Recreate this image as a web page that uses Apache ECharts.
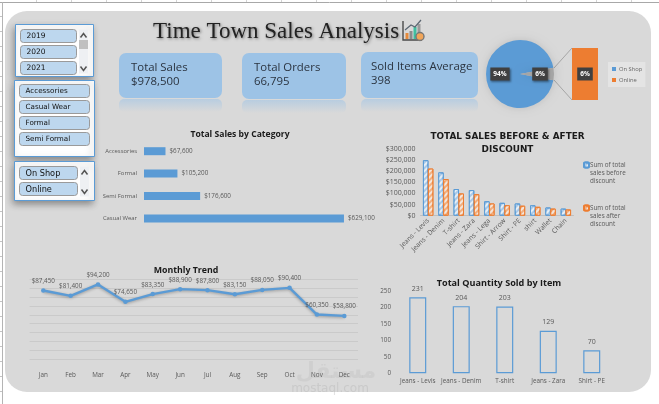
<!DOCTYPE html>
<html>
<head>
<meta charset="utf-8">
<title>Time Town Sales Analysis</title>
<script src="https://cdn.jsdelivr.net/npm/echarts@6/dist/echarts.min.js"></script>
<style>
html,body{margin:0;padding:0;background:#fff}
#chart{width:659px;height:404px}
</style>
</head>
<body>
<div id="chart"></div>
<script>
// Sales figures
const channelShare = [94, 6];
const channelNames = ['On Shop', 'Online'];

const categoryNames = ['Accessories', 'Formal', 'Semi Formal', 'Casual Wear'];
const categorySales = [67600, 105200, 176600, 629100];

const itemNames = ['Jeans - Levis', 'Jeans - Denim', 'T-shirt', 'Jeans - Zara', 'Jeans - Lega', 'Shirt - Arrow', 'Shirt - PE', 'shirt', 'Wallet', 'Chain'];
const salesBefore = [250000, 195000, 120000, 115000, 65000, 58000, 55000, 47000, 37000, 32000];
const salesAfter = [212000, 165000, 100000, 97000, 55000, 47000, 45000, 40000, 32000, 28000];
const seriesBeforeName = 'Sum of total\nsales before\ndiscount';
const seriesAfterName = 'Sum of total\nsales after\ndiscount';

const months = ['Jan', 'Feb', 'Mar', 'Apr', 'May', 'Jun', 'Jul', 'Aug', 'Sep', 'Oct', 'Nov', 'Dec'];
const monthlySales = [87450, 81400, 94200, 74650, 83350, 88900, 87800, 83150, 88050, 90400, 60350, 58800];

const topItems = ['Jeans - Levis', 'Jeans - Denim', 'T-shirt', 'Jeans - Zara', 'Shirt - PE'];
const topQuantities = [231, 204, 203, 129, 70];

const yearOptions = ['2019', '2020', '2021'];
const categoryOptions = ['Accessories', 'Casual Wear', 'Formal', 'Semi Formal'];
const channelOptions = ['On Shop', 'Online'];

const kpiCards = [
  { title: 'Total Sales', value: '$978,500' },
  { title: 'Total Orders', value: '66,795' },
  { title: 'Sold Items Average', value: '398' }
];

const BLUE = '#5B9BD5', ORANGE = '#ED7D31', GRAY_TEXT = '#595959';
const LABEL_FONT = '"Open Sans", sans-serif';
const usd = v => '$' + v.toLocaleString('en-US');

// Dashboard furniture: sheet lines, panel, slicers, KPI cards, icon
const furniture = [];
const rect = (x, y, width, height, r, style) => furniture.push({
  type: 'rect', silent: true, shape: { x, y, width, height, r }, style
});
const line = (x1, y1, x2, y2, stroke, lineWidth) => furniture.push({
  type: 'line', silent: true, shape: { x1, y1, x2, y2 }, style: { stroke, lineWidth: lineWidth || 1 }
});
const text = (x, y, t, font, fill, extra) => furniture.push({
  type: 'text', silent: true, x, y,
  style: Object.assign({ text: t, font, fill, textVerticalAlign: 'middle' }, extra || {})
});

// Worksheet cell lines behind the panel
for (let x = 36.5; x < 659; x += 35) line(x, 0, x, 2, '#d4d4d4');
for (let y = 16.5; y < 404; y += 15) line(0, y, 2, y, '#c4c4c4');
line(0, 2.5, 659, 2.5, '#a8a8a8');
line(2.5, 2, 2.5, 404, '#b4b4b4');

// Main rounded panel
rect(5, 11, 646, 381, 22, { fill: '#D9D9D9' });

// Slicer frames with their buttons
function slicer(frame, buttonX, buttonW, firstY, options, fontSize, scrollX, scrollH) {
  rect(frame[0], frame[1], frame[2], frame[3], 0, {
    fill: '#fff', stroke: BLUE, lineWidth: 1,
    shadowBlur: 7, shadowOffsetX: -2, shadowOffsetY: 3, shadowColor: 'rgba(0,0,0,0.38)'
  });
  options.forEach((label, i) => {
    const y = firstY + i * 16;
    const h = Math.min(13, frame[1] + frame[3] - y - 1);
    rect(buttonX, y, buttonW, h, 3, { fill: '#BDD7EE', stroke: '#9a9a9a', lineWidth: 1 });
    text(buttonX + 6, y + 7, label, fontSize + 'px "DejaVu Sans", sans-serif', '#111');
  });
  if (scrollX) {
    rect(scrollX, firstY, 9, scrollH, 0, { fill: '#EEF0F3' });
    const chevron = (cy, dir) => furniture.push({
      type: 'polyline', silent: true,
      shape: { points: [[scrollX + 1.5, cy + 2 * dir], [scrollX + 4.5, cy - 2 * dir], [scrollX + 7.5, cy + 2 * dir]] },
      style: { stroke: '#555', lineWidth: 1.5, fill: null }
    });
    chevron(firstY + 6, 1);
    chevron(firstY + scrollH - 5, -1);
  }
}
slicer([15.5, 24.5, 78, 52], 20.5, 56, 29.5, yearOptions, 7.5, 79, 44);
rect(79, 40, 9, 9, 0, { fill: '#c0c0c0' });
slicer([14.5, 80.5, 80, 76], 19.5, 70, 84.5, categoryOptions, 7.2);
slicer([14.5, 161.5, 80, 39], 19.5, 58, 166.5, channelOptions, 8.2, 80, 30);

// KPI cards with a faded reflection underneath
const cardBoxes = [[119, 53, 103, 45], [242, 53, 104, 46], [361, 52, 117, 46]];
const cardInset = [12, 12, 10];
kpiCards.forEach((card, i) => {
  const [x, y, w, h] = cardBoxes[i];
  rect(x, y + h + 1, w, 13, 5, {
    fill: { type: 'linear', x: 0, y: 0, x2: 0, y2: 1, colorStops: [
      { offset: 0, color: 'rgba(157,195,230,0.55)' }, { offset: 1, color: 'rgba(157,195,230,0)' }
    ] }
  });
  rect(x, y, w, h, 7, { fill: '#9DC3E6' });
  text(x + cardInset[i], y + 15, card.title, '11.4px "Open Sans", sans-serif', '#2b3440');
  text(x + cardInset[i], y + 29, card.value, '11.4px "Open Sans", sans-serif', '#2b3440');
});

// Chart icon beside the heading
furniture.push({
  type: 'polyline', silent: true,
  shape: { points: [[403, 21], [403, 40], [422, 40]] },
  style: { stroke: '#4a4a4a', lineWidth: 1.4, fill: null }
});
rect(405.5, 33, 3, 6, 0, { fill: '#E58A3C' });
rect(409.5, 31, 3, 8, 0, { fill: '#8c8c8c' });
rect(413.5, 27, 3, 12, 0, { fill: '#3FBFA0' });
rect(417.5, 24, 3, 12, 0, { fill: '#9a9a9a' });
furniture.push({
  type: 'polyline', silent: true,
  shape: { points: [[405, 30], [411, 25], [415, 27], [421, 20]] },
  style: { stroke: '#5a6570', lineWidth: 1.2, fill: null }
});
furniture.push({
  type: 'circle', silent: true, shape: { cx: 420, cy: 36.5, r: 4 },
  style: { fill: '#F2A65A', stroke: '#777', lineWidth: 1.4 }
});

// Connector lines from the pie slice to the breakdown column
line(554, 68, 572, 48, '#a6a6a6');
line(554, 80, 572, 100, '#a6a6a6');

// Site mark in the lower corner
text(336, 372, 'مستقل', 'bold 22px "DejaVu Sans", sans-serif', 'rgba(190,190,190,0.35)', { textAlign: 'center' });
text(330, 389, 'mostaql.com', '12px "DejaVu Sans", sans-serif', 'rgba(175,175,175,0.35)', { textAlign: 'center' });

const chartTitle = (t, centerX, top, size, font) => ({
  text: t, left: centerX, top, textAlign: 'center', padding: 0,
  textStyle: { fontFamily: font || LABEL_FONT, fontWeight: 'bold', fontSize: size, color: '#1a1a1a', lineHeight: 13 }
});

const baseLabel = { fontFamily: LABEL_FONT, fontSize: 6.3, color: GRAY_TEXT };

const option = {
  animation: false,
  backgroundColor: '#fff',
  graphic: { elements: furniture },
  title: [
    {
      text: 'Time Town Sales Analysis', left: 153, top: 20, padding: 0,
      textStyle: {
        fontFamily: '"Liberation Serif", serif', fontWeight: 'normal', fontSize: 23, color: '#222',
        textShadowColor: 'rgba(0,0,0,0.45)', textShadowBlur: 3, textShadowOffsetX: 1, textShadowOffsetY: 1
      }
    },
    chartTitle('Total Sales by Category', 240, 128, 8.6),
    chartTitle('TOTAL SALES BEFORE & AFTER\nDISCOUNT', 507.5, 130, 8.9, '"DejaVu Sans", sans-serif'),
    chartTitle('Monthly Trend', 186, 264, 8.8),
    chartTitle('Total Quantity Sold by Item', 499, 277, 9.1)
  ],
  legend: [
    {
      seriesIndex: 0, data: [
        { name: channelNames[0], itemStyle: { color: BLUE } },
        { name: channelNames[1], itemStyle: { color: ORANGE } }
      ],
      orient: 'vertical', left: 608, top: 62, padding: [4, 3, 4, 4], itemGap: 5,
      itemWidth: 4, itemHeight: 4, icon: 'rect', backgroundColor: '#E4E4E4',
      selectedMode: false,
      textStyle: { fontFamily: LABEL_FONT, fontSize: 5.8, color: '#666', padding: [0, 0, 0, -2] }
    },
    {
      data: [seriesBeforeName, seriesAfterName],
      orient: 'vertical', left: 583, top: 145, padding: 0, itemGap: 3,
      itemWidth: 5, itemHeight: 5, selectedMode: false,
      // two blank lines put each swatch level with the first line of its caption
      formatter: name => '\n\n' + name,
      textStyle: { fontFamily: LABEL_FONT, fontSize: 6.3, color: GRAY_TEXT, lineHeight: 8, padding: [0, 0, 0, -4] }
    }
  ],
  grid: [
    { left: 144, top: 140, width: 222.5, height: 89.6 },
    { left: 420.5, top: 149, width: 153, height: 66.7 },
    { left: 29.6, top: 279.3, width: 328.4, height: 80 },
    { left: 396, top: 291, width: 217.5, height: 82.3 },
    { left: 572, top: 48, width: 26, height: 52 }
  ],
  xAxis: [
    { gridIndex: 0, type: 'value', min: 0, max: 700000, show: false },
    {
      gridIndex: 1, type: 'category', data: itemNames,
      axisTick: { show: false }, axisLine: { lineStyle: { color: '#bfbfbf' } },
      axisLabel: Object.assign({}, baseLabel, { rotate: 45, interval: 0, margin: 4, fontSize: 6.8 })
    },
    {
      gridIndex: 2, type: 'category', data: months,
      axisTick: { show: false }, axisLine: { show: false },
      axisLabel: Object.assign({}, baseLabel, { margin: 13 })
    },
    {
      gridIndex: 3, type: 'category', data: topItems,
      axisTick: { show: false }, axisLine: { show: false },
      axisLabel: Object.assign({}, baseLabel, { interval: 0, margin: 5 })
    },
    { gridIndex: 4, type: 'category', data: [channelNames[1]], show: false }
  ],
  yAxis: [
    {
      gridIndex: 0, type: 'category', data: categoryNames, inverse: true,
      axisTick: { show: false }, axisLine: { show: false },
      axisLabel: Object.assign({}, baseLabel, { margin: 7, fontSize: 5.9 })
    },
    {
      gridIndex: 1, type: 'value', min: 0, max: 300000, interval: 50000,
      splitLine: { show: false }, axisLine: { show: false }, axisTick: { show: false },
      axisLabel: Object.assign({}, baseLabel, { formatter: usd, margin: 5, fontSize: 7 })
    },
    {
      gridIndex: 2, type: 'value', min: 10000, max: 100000, interval: 10000,
      axisLabel: { show: false }, axisLine: { show: false }, axisTick: { show: false },
      splitLine: { lineStyle: { color: '#cacaca', width: 1 } }
    },
    {
      gridIndex: 3, type: 'value', min: 0, max: 250, interval: 50,
      splitLine: { show: false }, axisLine: { show: false }, axisTick: { show: false },
      axisLabel: Object.assign({}, baseLabel, { margin: 5, fontSize: 6.3 })
    },
    { gridIndex: 4, type: 'value', min: 0, max: 6, show: false }
  ],
  series: [
    {
      type: 'pie', center: [520, 74], radius: [0, 34], startAngle: -10.8,
      silent: true,
      data: channelNames.map((name, i) => ({
        name, value: channelShare[i],
        itemStyle: { color: i === 0 ? BLUE : '#A5A5A5' }
      })),
      itemStyle: { shadowBlur: 8, shadowColor: 'rgba(0,0,0,0.12)' },
      label: {
        position: 'inside', formatter: '{c}%', color: '#fff', fontSize: 6.5, fontWeight: 'bold',
        fontFamily: LABEL_FONT, backgroundColor: '#404040', padding: [3, 3, 3, 3],
        shadowBlur: 2, shadowColor: 'rgba(0,0,0,0.4)', shadowOffsetX: 1, shadowOffsetY: 1
      },
      labelLine: { show: false }
    },
    {
      type: 'bar', xAxisIndex: 4, yAxisIndex: 4, barWidth: '100%', data: [channelShare[1]],
      silent: true, itemStyle: { color: ORANGE },
      label: {
        show: true, position: 'inside', formatter: '{c}%', color: '#fff', fontSize: 6.5, fontWeight: 'bold',
        fontFamily: LABEL_FONT, backgroundColor: '#404040', padding: [3, 3, 3, 3]
      }
    },
    {
      type: 'bar', xAxisIndex: 0, yAxisIndex: 0, data: categorySales, barWidth: 8,
      itemStyle: { color: BLUE },
      label: Object.assign({}, baseLabel, { show: true, position: 'right', distance: 4, formatter: p => usd(p.value) })
    },
    {
      name: seriesBeforeName, type: 'bar', xAxisIndex: 1, yAxisIndex: 1, data: salesBefore, barWidth: 5.5, barGap: '-10%',
      itemStyle: {
        color: '#A9C9E8', borderColor: BLUE, borderWidth: 1,
        decal: { symbol: 'rect', dashArrayX: [1, 0], dashArrayY: [2, 2], rotation: -Math.PI / 4, color: 'rgba(240,244,248,0.85)' }
      }
    },
    {
      name: seriesAfterName, type: 'bar', xAxisIndex: 1, yAxisIndex: 1, data: salesAfter, barWidth: 5.5,
      itemStyle: {
        color: '#F2AE7E', borderColor: ORANGE, borderWidth: 1,
        decal: { symbol: 'rect', dashArrayX: [1, 0], dashArrayY: [2, 2], rotation: -Math.PI / 4, color: 'rgba(245,240,235,0.85)' }
      }
    },
    {
      type: 'line', xAxisIndex: 2, yAxisIndex: 2, data: monthlySales,
      symbol: 'circle', symbolSize: 4.5,
      lineStyle: { color: BLUE, width: 2.4, shadowBlur: 3, shadowColor: 'rgba(0,0,0,0.3)', shadowOffsetY: 1 },
      itemStyle: { color: BLUE },
      label: Object.assign({}, baseLabel, { show: true, position: 'top', distance: 4, formatter: p => usd(p.value) })
    },
    {
      type: 'bar', xAxisIndex: 3, yAxisIndex: 3, data: topQuantities, barWidth: 17,
      itemStyle: { color: 'rgba(0,0,0,0)', borderColor: BLUE, borderWidth: 1.2 },
      label: Object.assign({}, baseLabel, { show: true, position: 'top', distance: 5, fontSize: 7 })
    }
  ]
};

echarts.init(document.getElementById('chart'), null, { renderer: 'canvas' }).setOption(option);
</script>
</body>
</html>
